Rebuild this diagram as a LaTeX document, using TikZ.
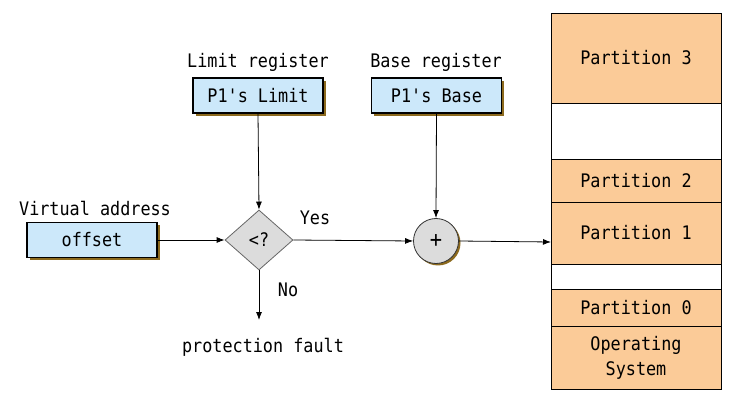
\documentclass[tikz,border=0pt]{standalone}
\usepackage{fontspec}
\setmonofont[FakeStretch=0.9]{DejaVu Sans Mono}
\usetikzlibrary{shapes.geometric,arrows.meta,shadows}
\definecolor{regblue}{HTML}{CCE8FA}
\definecolor{shadowbrown}{HTML}{8C6A1E}
\definecolor{partorange}{HTML}{FBCB98}
\definecolor{cmpgray}{HTML}{DCDCDC}
\begin{document}
\begin{tikzpicture}[x=0.75pt,y=-0.75pt,
  every node/.style={font=\ttfamily\fontsize{14}{16}\selectfont},
  reg/.style={draw=black,fill=regblue,line width=0.8pt,minimum width=97.5pt,minimum height=26.25pt,inner sep=0pt,
    drop shadow={shadow xshift=2.2pt,shadow yshift=-2.2pt,fill=shadowbrown,opacity=1}},
  part/.style={draw=black,line width=0.6pt,fill=partorange},
  emptypart/.style={draw=black,line width=0.6pt,fill=white},
  conn/.style={line width=0.6pt,-{Latex[length=6pt,width=4.5pt]}},
  lbl/.style={inner sep=0pt}]
\useasboundingbox (0,0) rectangle (736,406);
% registers
\node[reg] (offset) at (92,240) {offset};
\node[lbl] (valbl) at (95,208) {Virtual address};
\node[reg] (limit) at (258,95.5) {P1's Limit};
\node[lbl] (limlbl) at (258,62) {Limit register};
\node[reg] (base) at (436.5,95.5) {P1's Base};
\node[lbl] (baselbl) at (436,62) {Base register};
% compare
\node[diamond,draw=gray!80!black,fill=cmpgray,line width=0.6pt,minimum width=51pt,minimum height=45pt,inner sep=0pt] (cmp) at (259,240) {<?};
\node[lbl] (yes) at (315,218) {Yes};
\node[lbl] (no) at (288,290) {No};
\node[lbl] (fault) at (263,347) {protection fault};
\coordinate (faultend) at (259,320);
% adder
\node[circle,draw=black!80,fill=cmpgray,line width=0.6pt,minimum size=33.75pt,inner sep=0pt,
  font=\ttfamily\fontsize{17}{18}\selectfont,
  drop shadow={shadow xshift=1.5pt,shadow yshift=-1.5pt,fill=shadowbrown,opacity=1}] (add) at (436,241) {+};
% memory
\draw[part] (551,13) rectangle (721,103);
\node (p3) at (636,58) {Partition 3};
\draw[emptypart] (551,103) rectangle (721,159);
\draw[part] (551,159) rectangle (721,202);
\node (p2) at (636,180.5) {Partition 2};
\draw[part] (551,202) rectangle (721,264);
\node (p1) at (636,233) {Partition 1};
\coordinate (p1left) at (551,242);
\draw[emptypart] (551,264) rectangle (721,289);
\draw[part] (551,289) rectangle (721,326);
\node (p0) at (636,307.5) {Partition 0};
\draw[part] (551,326) rectangle (721,389);
\node[align=center,font=\ttfamily\fontsize{14}{18.5}\selectfont] (os) at (636,358) {Operating\\System};
% connectors
\draw[conn] (offset.east) -- (cmp.west);
\draw[conn] (limit.south) -- (cmp.north);
\draw[conn] (cmp.south) -- (faultend);
\draw[conn] (cmp.east) -- (add.west);
\draw[conn] (base.south) -- (add.north);
\draw[conn] (add.east) -- (p1left);
\end{tikzpicture}
\end{document}
